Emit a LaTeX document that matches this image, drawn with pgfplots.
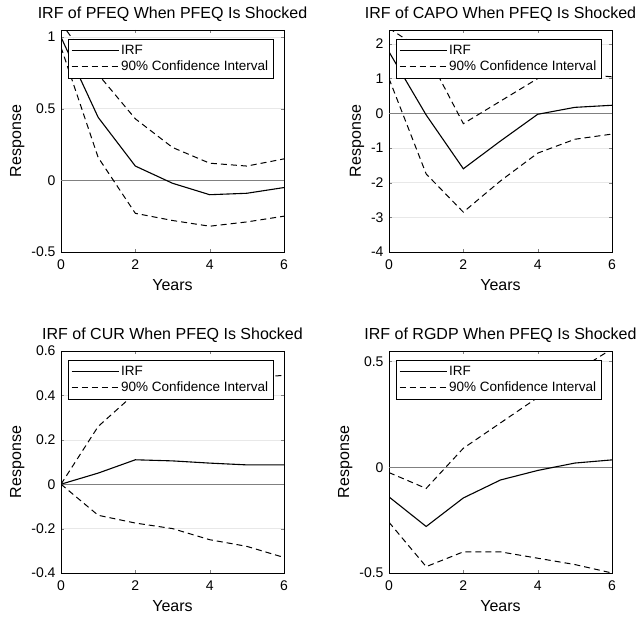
\documentclass[border=0pt]{standalone}
\usepackage{pgfplots}
\pgfplotsset{compat=1.18}
\usepackage{fontspec}
\setmainfont{Liberation Sans}
\pgfplotsset{
 irf/.style={
  scale only axis, width=223pt, height=222pt,
  xmin=0, xmax=6, xtick={0,2,4,6},
  tick align=inside, major tick length=3pt,
  tick label style={font=\fontsize{14}{16}\selectfont},
  xticklabel style={yshift=-4pt},
  yticklabel style={xshift=-2pt},
  /pgf/number format/assume math mode=true,
  xlabel={Years}, ylabel={Response},
  label style={font=\fontsize{16}{18}\selectfont},
  xlabel style={yshift=-3pt},
  title style={font=\fontsize{16}{18}\selectfont, inner sep=2pt},
  ymajorgrids, grid style={black!9, line width=0.6pt},
  axis line style={line width=0.8pt},
  legend cell align=left,
  legend style={at={(0.03,0.96)}, anchor=north west, draw=black, line width=0.8pt,
    font=\fontsize{13.5}{16}\selectfont, fill=white, inner xsep=3pt, inner ysep=4pt, row sep=1pt},
  legend image code/.code={\draw[#1] (0pt,0pt) -- (47pt,0pt);},
 },
 irfline/.style={black, line width=1.1pt},
 ciline/.style={black, line width=1.0pt, dash pattern=on 6pt off 4pt},
 zeroline/.style={black!50, line width=0.8pt, forget plot},
}
\begin{document}
\begin{tikzpicture}
\useasboundingbox (0,0) rectangle (643pt,-620pt);
% Top left
\begin{axis}[irf, at={(61pt,-252pt)}, anchor=south west,
  ymin=-0.5, ymax=1.05, ytick={-0.5,0,0.5,1},
  title={IRF of PFEQ When PFEQ Is Shocked}]
\addplot[zeroline] coordinates {(0,0) (6,0)};
\addplot[irfline] coordinates {(0,1.0)(1,0.44)(2,0.10)(3,-0.02)(4,-0.10)(5,-0.09)(6,-0.05)};
\addlegendentry{IRF}
\addplot[ciline] coordinates {(0,1.10)(1,0.74)(2,0.43)(3,0.23)(4,0.12)(5,0.10)(6,0.15)};
\addlegendentry{90\% Confidence Interval}
\addplot[ciline, forget plot] coordinates {(0,0.93)(1,0.16)(2,-0.23)(3,-0.28)(4,-0.32)(5,-0.29)(6,-0.25)};
\end{axis}
% Top right
\begin{axis}[irf, at={(389pt,-252pt)}, anchor=south west,
  ymin=-4, ymax=2.4, ytick={-4,-3,-2,-1,0,1,2},
  title={IRF of CAPO When PFEQ Is Shocked}]
\addplot[zeroline] coordinates {(0,0) (6,0)};
\addplot[irfline] coordinates {(0,1.77)(1,-0.05)(2,-1.6)(3,-0.8)(4,-0.03)(5,0.17)(6,0.23)};
\addlegendentry{IRF}
\addplot[ciline] coordinates {(0,2.45)(1,1.75)(2,-0.3)(3,0.35)(4,1.0)(5,1.15)(6,1.05)};
\addlegendentry{90\% Confidence Interval}
\addplot[ciline, forget plot] coordinates {(0,1.0)(1,-1.75)(2,-2.85)(3,-1.95)(4,-1.15)(5,-0.75)(6,-0.6)};
\end{axis}
% Bottom left
\begin{axis}[irf, at={(61pt,-573pt)}, anchor=south west,
  ymin=-0.4, ymax=0.6, ytick={-0.4,-0.2,0,0.2,0.4,0.6},
  title={IRF of CUR When PFEQ Is Shocked}]
\addplot[zeroline] coordinates {(0,0) (6,0)};
\addplot[irfline] coordinates {(0,0)(1,0.05)(2,0.11)(3,0.105)(4,0.095)(5,0.087)(6,0.087)};
\addlegendentry{IRF}
\addplot[ciline] coordinates {(0,0)(1,0.26)(2,0.41)(3,0.45)(4,0.47)(5,0.48)(6,0.49)};
\addlegendentry{90\% Confidence Interval}
\addplot[ciline, forget plot] coordinates {(0,0)(1,-0.14)(2,-0.175)(3,-0.2)(4,-0.25)(5,-0.28)(6,-0.33)};
\end{axis}
% Bottom right
\begin{axis}[irf, at={(389pt,-573pt)}, anchor=south west,
  ymin=-0.5, ymax=0.55, ytick={-0.5,0,0.5},
  title={IRF of RGDP When PFEQ Is Shocked}]
\addplot[zeroline] coordinates {(0,0) (6,0)};
\addplot[irfline] coordinates {(0,-0.14)(1,-0.28)(2,-0.145)(3,-0.06)(4,-0.015)(5,0.02)(6,0.035)};
\addlegendentry{IRF}
\addplot[ciline] coordinates {(0,-0.025)(1,-0.1)(2,0.09)(3,0.21)(4,0.33)(5,0.45)(6,0.56)};
\addlegendentry{90\% Confidence Interval}
\addplot[ciline, forget plot] coordinates {(0,-0.26)(1,-0.47)(2,-0.40)(3,-0.40)(4,-0.43)(5,-0.46)(6,-0.50)};
\end{axis}
\end{tikzpicture}
\end{document}
